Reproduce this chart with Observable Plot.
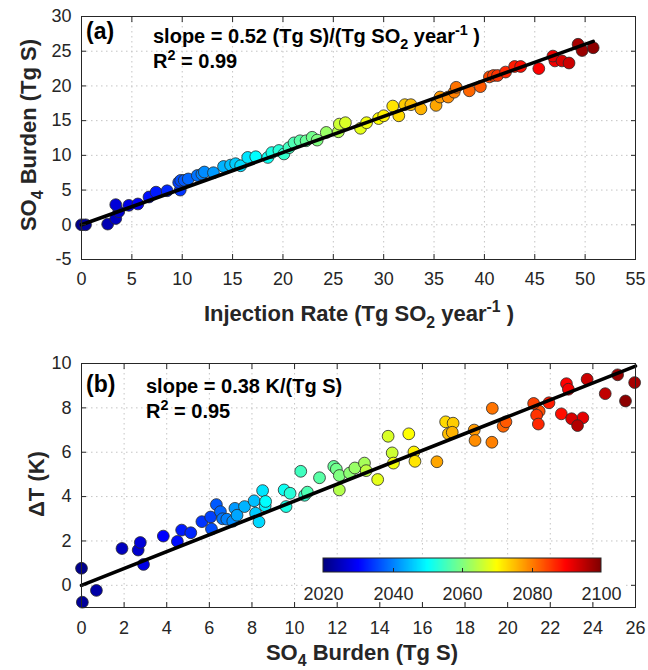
<!DOCTYPE html>
<html>
<head>
<meta charset="utf-8">
<script src="https://cdn.jsdelivr.net/npm/d3@7"></script>
<script src="https://cdn.jsdelivr.net/npm/@observablehq/plot@0.6"></script>
<style>
  html, body { margin: 0; padding: 0; background: #fff; }
  #chart { position: relative; width: 648px; height: 670px; font-family: "Liberation Sans", Arial, sans-serif; }
  #chart svg { display: block; overflow: visible; }
  #cbar { position: absolute; left: 303px; top: 557px; }
</style>
</head>
<body>
<div id="chart"></div>
<script>
// ---------------- data ----------------
// Panel (a): injection rate vs SO4 burden, coloured by year
const yearsA = [2021,2022,2024,2025,2026,2027,2028,2029,2031,2032,2033,2034,2035,2036,2037,2038,2039,2040,2041,2042,
  2044,2045,2046,2047,2048,2050,2051,2052,2053,2054,2055,2056,2057,2058,2059,2060,2062,2064,2066,2067,
  2068,2069,2070,2071,2073,2072,2074,2075,2076,2077,2078,2079,2080,2081,2082,2083,2084,2085,2086,2087,
  2088,2089,2090,2091,2092,2093,2094,2097,2098,2099];
const injectionA = [0.0,0.4,2.6,3.4,3.7,3.4,4.7,5.6,6.7,7.4,8.5,9.8,9.65,9.85,10.2,10.6,11.5,11.95,12.2,13.1,
  14.1,14.8,15.3,15.8,16.5,17.3,18.5,18.9,19.6,20.1,20.6,21.1,21.7,22.3,22.9,23.4,24.3,25.5,25.6,26.2,
  27.7,28.3,29.5,30.0,31.5,30.9,32.1,32.7,33.7,35.2,35.6,36.4,37.0,37.2,38.5,39.6,40.5,40.9,41.3,42.1,
  43.0,43.6,45.4,47.0,46.8,47.7,48.4,49.3,49.7,50.8];
const burdenA = [0.0,0.0,0.1,0.9,1.9,2.9,2.8,3.0,4.0,4.7,4.9,5.0,6.1,6.4,6.4,6.6,7.1,7.3,7.6,7.5,
  8.4,8.6,8.8,8.5,9.7,9.8,9.7,10.4,10.7,10.2,11.1,11.8,12.1,12.1,12.6,12.2,13.3,13.4,14.5,14.7,
  13.9,14.7,15.3,15.7,15.7,17.1,17.3,17.3,16.7,17.2,18.4,18.4,19.1,19.8,19.3,19.9,21.3,21.5,21.5,22.0,
  22.8,22.8,22.5,23.6,24.3,23.6,23.3,26.0,25.1,25.5];

// Panel (b): SO4 burden vs temperature change, coloured by year
const yearsB = [2021,2022,2023,2025,2026,2027,2028,2030,2031,2032,2033,2034,2035,2036,2037,2038,2039,2040,2041,2042,
  2043,2044,2045,2046,2047,2048,2049,2050,2051,2052,2053,2054,2055,2056,2057,2058,2059,2060,2061,2062,
  2063,2064,2065,2066,2067,2068,2069,2070,2071,2072,2073,2074,2075,2076,2077,2078,2079,2080,2081,2082,
  2083,2084,2085,2086,2087,2088,2089,2090,2091,2092,2093,2094,2095,2096,2097,2098,2099];
const burdenB = [0.00,0.04,0.70,1.90,2.66,2.76,2.91,3.84,4.50,4.70,5.13,5.65,6.06,6.10,6.33,6.52,6.62,6.82,7.10,7.20,
  7.30,7.65,8.10,8.17,8.33,8.50,8.62,8.64,9.51,9.60,9.79,10.47,10.29,10.60,11.17,11.84,11.96,12.10,12.58,12.83,
  13.28,12.10,13.36,14.58,14.39,13.90,14.64,15.36,15.60,15.65,17.09,17.44,17.22,17.40,16.68,18.43,18.47,19.26,19.28,19.79,
  19.92,21.48,21.22,21.36,21.44,21.94,22.52,22.76,22.85,23.53,23.00,23.73,24.58,23.28,25.96,25.16,25.53];
const deltaTB = [0.77,-0.76,-0.23,1.66,1.59,1.93,0.94,2.22,1.98,2.49,2.37,2.87,3.08,2.54,3.64,3.32,3.00,2.98,2.89,3.47,
  3.16,3.55,3.81,3.25,2.86,4.27,3.58,3.78,4.30,3.55,4.15,4.06,5.14,4.20,4.85,5.36,5.24,4.95,5.06,5.29,
  5.51,4.30,5.17,5.97,6.72,4.77,5.51,6.83,6.01,5.59,7.37,7.31,6.83,6.90,5.57,7.00,6.53,6.45,7.98,7.17,
  7.37,7.85,8.20,7.67,7.27,8.23,7.73,9.09,8.84,7.55,7.51,9.29,8.64,7.20,9.14,9.49,8.31];

// Fit statistics (from the annotations)
const slopeA = 0.52, r2A = 0.99;
const slopeB = 0.38, r2B = 0.95;

// Axis ticks
const xTicksA = [0,5,10,15,20,25,30,35,40,45,50,55];
const yTicksA = [-5,0,5,10,15,20,25,30];
const xTicksB = [0,2,4,6,8,10,12,14,16,18,20,22,24,26];
const yTicksB = [0,2,4,6,8,10];
const colorTicks = [2020,2040,2060,2080,2100];
const yearDomain = [2020, 2100];

// ---------------- helpers ----------------
const FONT = '"Liberation Sans", Arial, Helvetica, sans-serif';
const INK = "#262626";
// MATLAB "jet" colormap (piecewise-linear RGB)
const jet = d3.scaleLinear()
  .domain([0, 1/8, 3/8, 5/8, 7/8, 1])
  .range(["#000080", "#0000ff", "#00ffff", "#ffff00", "#ff0000", "#800000"])
  .interpolate(d3.interpolateRgb)
  .clamp(true);
const colorScale = {type: "linear", domain: yearDomain, interpolate: t => jet(t)};

function rich(svg, parts, {x, y, size, weight = "bold", anchor = "start", fill = "#000", rotate = 0, sub = 0.3}) {
  const t = d3.select(svg).append("text")
    .attr("transform", `translate(${x},${y}) rotate(${rotate})`)
    .attr("text-anchor", anchor)
    .attr("font-family", FONT)
    .attr("font-size", size)
    .attr("font-weight", weight)
    .attr("fill", fill)
    .style("white-space", "pre");
  let shift = 0;
  for (const [s, kind] of parts) {
    const target = kind === "sub" ? sub * size : kind === "sup" ? -0.42 * size : 0;
    t.append("tspan")
      .attr("dy", target - shift)
      .attr("font-size", kind ? 0.72 * size : size)
      .text(s);
    shift = target;
  }
  return t;
}

function axes(xTicks, yTicks, padX, padY) {
  return [
    Plot.frame({stroke: INK, strokeWidth: 1}),
    Plot.axisX(xTicks, {anchor: "bottom", tickSize: -5, tickPadding: padX, label: null, tickFormat: d => String(d)}),
    Plot.axisX(xTicks, {anchor: "top", tickSize: -5, label: null, tickFormat: () => ""}),
    Plot.axisY(yTicks, {anchor: "left", tickSize: -5, tickPadding: padY, label: null, tickFormat: d => String(d)}),
    Plot.axisY(yTicks, {anchor: "right", tickSize: -5, label: null, tickFormat: () => ""})
  ];
}
const gridStyle = {stroke: "#c4c4c4", strokeOpacity: 1, strokeWidth: 1, strokeDasharray: "1.5,3.5"};
const dotStyle = {r: 5.9, stroke: "#2a2a2a", strokeWidth: 0.8};

// ---------------- panel (a) ----------------
const dataA = yearsA.map((year, i) => ({year, x: injectionA[i], y: burdenA[i]})).sort((a, b) => a.year - b.year);
const fitA = [0, d3.max(injectionA)].map(x => ({x, y: slopeA * x}));

const plotA = Plot.plot({
  width: 648, height: 335,
  marginLeft: 81, marginRight: 13, marginTop: 16, marginBottom: 76,
  x: {domain: [0, 55]},
  y: {domain: [-5, 30]},
  color: colorScale,
  style: {fontFamily: FONT, fontSize: "18px", color: INK, background: "white", overflow: "visible"},
  marks: [
    Plot.gridX(xTicksA, gridStyle),
    Plot.gridY(yTicksA, gridStyle),
    Plot.dot(dataA, {x: "x", y: "y", fill: "year", ...dotStyle}),
    Plot.line(fitA, {x: "x", y: "y", stroke: "#000", strokeWidth: 3.6}),
    ...axes(xTicksA, yTicksA, 18, 15)
  ]
});

// ---------------- panel (b) ----------------
const dataB = yearsB.map((year, i) => ({year, x: burdenB[i], y: deltaTB[i]})).sort((a, b) => a.year - b.year);
const fitB = [0, 26].map(x => ({x, y: slopeB * x}));

const plotB = Plot.plot({
  width: 648, height: 335,
  marginLeft: 81, marginRight: 13, marginTop: 28, marginBottom: 63,
  x: {domain: [0, 26]},
  y: {domain: [-1, 10]},
  color: colorScale,
  style: {fontFamily: FONT, fontSize: "18px", color: INK, background: "white", overflow: "visible"},
  marks: [
    Plot.gridX(xTicksB, gridStyle),
    Plot.gridY(yTicksB, gridStyle),
    Plot.dot(dataB, {x: "x", y: "y", fill: "year", ...dotStyle}),
    Plot.line(fitB, {x: "x", y: "y", stroke: "#000", strokeWidth: 3.6}),
    ...axes(xTicksB, yTicksB, 19, 15)
  ]
});

// ---------------- text (labels & annotations) ----------------
rich(plotA, [["SO"], ["4", "sub"], [" Burden (Tg S)"]], {x: 36, y: 135, size: 22, anchor: "middle", rotate: -90, fill: INK});
rich(plotA, [["Injection Rate (Tg SO"], ["2", "sub"], [" year"], ["-1", "sup"], [" )"]], {x: 359, y: 321, size: 22, anchor: "middle", fill: INK});
rich(plotA, [["(a)"]], {x: 86, y: 39, size: 23});
rich(plotA, [["slope = " + slopeA.toFixed(2) + " (Tg S)/(Tg SO"], ["2", "sub"], [" year"], ["-1", "sup"], [" )"]], {x: 153, y: 43, size: 20});
rich(plotA, [["R"], ["2", "sup"], [" = " + r2A.toFixed(2)]], {x: 153, y: 68, size: 20});

rich(plotB, [["\u0394T (K)"]], {x: 44, y: 149, size: 22, anchor: "middle", rotate: -90, fill: INK});
rich(plotB, [["SO"], ["4", "sub"], [" Burden (Tg S)"]], {x: 362, y: 325, size: 22, anchor: "middle", fill: INK, sub: 0.25});
rich(plotB, [["(b)"]], {x: 86, y: 57, size: 23});
rich(plotB, [["slope = " + slopeB.toFixed(2) + " K/(Tg S)"]], {x: 146, y: 58, size: 20});
rich(plotB, [["R"], ["2", "sup"], [" = " + r2B.toFixed(2)]], {x: 146, y: 83, size: 20});

// ---------------- colour bar ----------------
const cbar = Plot.legend({
  color: colorScale,
  legend: "ramp",
  width: 320, height: 45,
  marginTop: 1, marginBottom: 30, marginLeft: 20, marginRight: 22,
  ticks: colorTicks, tickFormat: d => String(d), tickSize: 12, label: null,
  style: {fontFamily: FONT, fontSize: "18px", color: INK, background: "white"}
});
cbar.id = "cbar";
{
  const s = d3.select(cbar);
  s.selectAll(".tick line").attr("y1", -4).attr("y2", 0).attr("stroke", INK);
  s.selectAll(".tick").filter(d => d === yearDomain[0] || d === yearDomain[1]).select("line").remove();
  s.selectAll(".domain").remove();
  s.append("rect")
    .attr("x", 20).attr("y", 1).attr("width", 320 - 20 - 22).attr("height", 45 - 1 - 30)
    .attr("fill", "none").attr("stroke", INK).attr("stroke-width", 1);
}

const root = document.getElementById("chart");
root.append(plotA, plotB, cbar);
</script>
</body>
</html>
